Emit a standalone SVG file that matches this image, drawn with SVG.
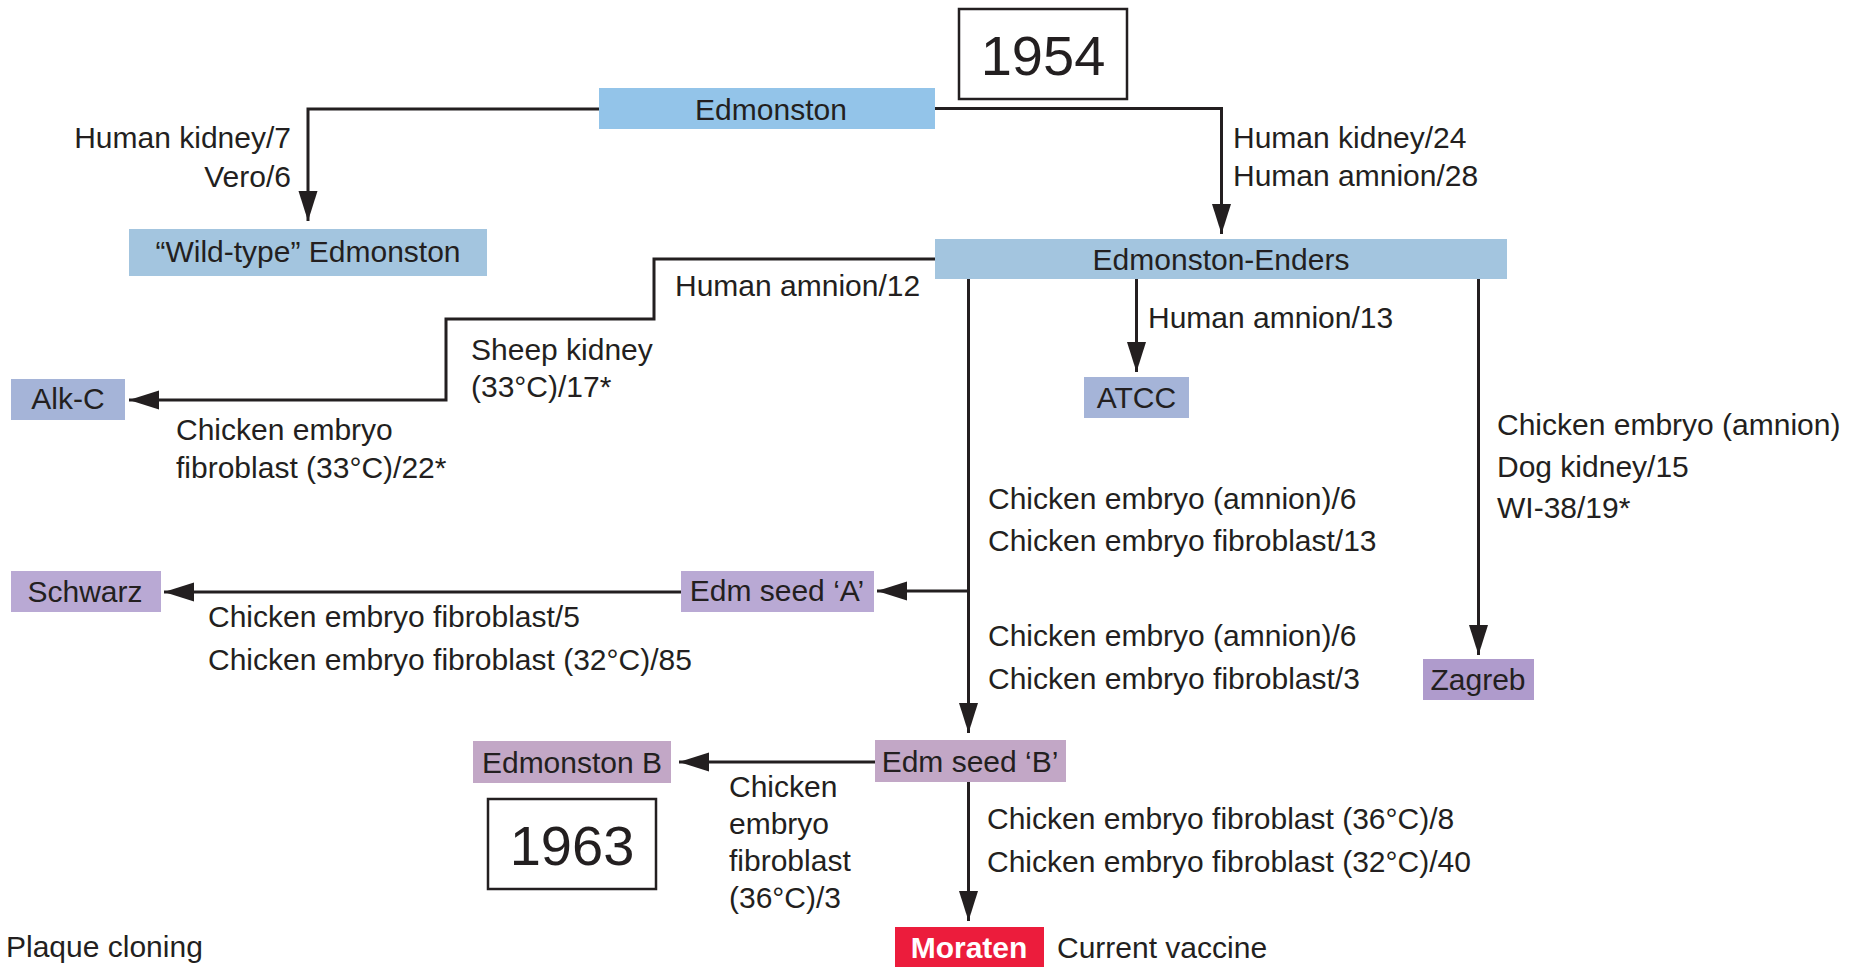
<svg xmlns="http://www.w3.org/2000/svg" width="1851" height="969" viewBox="0 0 1851 969">
<style>
text{font-family:"Liberation Sans",Arial,sans-serif;fill:#231f20;font-size:30px}
.n{text-anchor:middle}
.e{text-anchor:end}
.yr{font-size:56px;text-anchor:middle}
.c{fill:none;stroke:#231f20;stroke-width:3}
.a{marker-end:url(#ah)}
.yb{fill:#fff;stroke:#231f20;stroke-width:2.5}
</style>
<defs>
<marker id="ah" markerUnits="userSpaceOnUse" markerWidth="31" markerHeight="20" refX="30" refY="9.5" orient="auto">
<path d="M0,0 L30,9.5 L0,19 z" fill="#231f20"/>
</marker>
</defs>
<rect width="1851" height="969" fill="#fff"/>
<g id="connectors">
<path class="c a" d="M599,109 H308 V221"/>
<path class="c a" d="M934,108.5 H1221.5 V234"/>
<path class="c a" d="M936,259 H654 V319 H446 V400 H129"/>
<path class="c a" d="M1136.5,279 V372"/>
<path class="c a" d="M1478.5,279 V655"/>
<path class="c a" d="M968.5,279 V733"/>
<path class="c a" d="M968.5,591 H877"/>
<path class="c a" d="M681,592 H164"/>
<path class="c a" d="M876,762 H679"/>
<path class="c a" d="M968.5,782 V921"/>
</g>
<g id="labels">
<text class="e" x="291" y="148">Human kidney/7</text>
<text class="e" x="291" y="187">Vero/6</text>
<text x="1233" y="148">Human kidney/24</text>
<text x="1233" y="186">Human amnion/28</text>
<text x="675" y="296">Human amnion/12</text>
<text x="471" y="360">Sheep kidney</text>
<text x="471" y="397">(33°C)/17*</text>
<text x="176" y="440">Chicken embryo</text>
<text x="176" y="478">fibroblast (33°C)/22*</text>
<text x="1148" y="328">Human amnion/13</text>
<text x="1497" y="435">Chicken embryo (amnion)</text>
<text x="1497" y="477">Dog kidney/15</text>
<text x="1497" y="518">WI-38/19*</text>
<text x="988" y="509">Chicken embryo (amnion)/6</text>
<text x="988" y="551">Chicken embryo fibroblast/13</text>
<text x="988" y="646">Chicken embryo (amnion)/6</text>
<text x="988" y="689">Chicken embryo fibroblast/3</text>
<text x="208" y="627">Chicken embryo fibroblast/5</text>
<text x="208" y="670">Chicken embryo fibroblast (32°C)/85</text>
<text x="729" y="797">Chicken</text>
<text x="729" y="834">embryo</text>
<text x="729" y="871">fibroblast</text>
<text x="729" y="908">(36°C)/3</text>
<text x="987" y="829">Chicken embryo fibroblast (36°C)/8</text>
<text x="987" y="872">Chicken embryo fibroblast (32°C)/40</text>
<text x="6" y="957">Plaque cloning</text>
<text x="1057" y="958">Current vaccine</text>
</g>
<g id="year1954"><rect class="yb" x="959" y="9" width="168" height="90"/><text class="yr" x="1043" y="75">1954</text></g>
<g id="year1963"><rect class="yb" x="488" y="799" width="168" height="90"/><text class="yr" x="572" y="865">1963</text></g>
<g id="edmonston"><rect x="599" y="88" width="336" height="41" fill="#93c4e9"/><text class="n" x="771" y="120">Edmonston</text></g>
<g id="wildtype"><rect x="129" y="229" width="358" height="47" fill="#a3c5df"/><text class="n" x="308" y="262">“Wild-type” Edmonston</text></g>
<g id="enders"><rect x="935" y="239" width="572" height="40" fill="#a3c5df"/><text class="n" x="1221" y="270">Edmonston-Enders</text></g>
<g id="alkc"><rect x="11" y="379" width="114" height="41" fill="#a5b4d8"/><text class="n" x="68" y="409">Alk-C</text></g>
<g id="atcc"><rect x="1084" y="377" width="105" height="41" fill="#a5b4d8"/><text class="n" x="1136.5" y="408">ATCC</text></g>
<g id="schwarz"><rect x="11" y="571" width="150" height="41" fill="#b9a9d4"/><text class="n" x="85" y="602">Schwarz</text></g>
<g id="seedA"><rect x="681" y="571" width="193" height="41" fill="#b9a9d4"/><text class="n" x="777" y="601">Edm seed ‘A’</text></g>
<g id="zagreb"><rect x="1423" y="659" width="111" height="41" fill="#af9bcc"/><text class="n" x="1478" y="690">Zagreb</text></g>
<g id="edmB"><rect x="473" y="741" width="198" height="42" fill="#c2a7c6"/><text class="n" x="572" y="773">Edmonston B</text></g>
<g id="seedB"><rect x="875" y="740" width="191" height="42" fill="#c2a7c6"/><text class="n" x="970" y="772">Edm seed ‘B’</text></g>
<g id="moraten"><rect x="895" y="927" width="149" height="40" fill="#ec1c3c"/><text class="n" x="969" y="958" style="fill:#fff;font-weight:bold">Moraten</text></g>
</svg>
